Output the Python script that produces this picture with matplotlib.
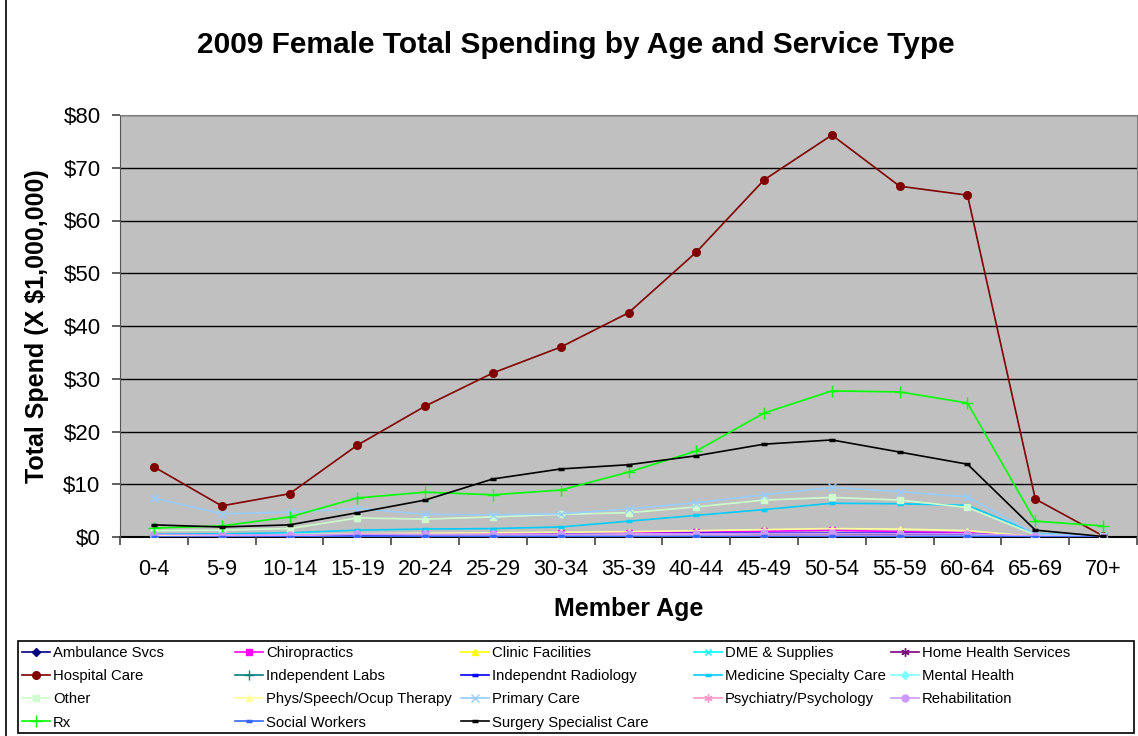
import matplotlib
matplotlib.use("Agg")
import matplotlib.pyplot as plt
from matplotlib.lines import Line2D
from matplotlib.patches import Rectangle
import numpy as np

plt.rcParams['font.family'] = ['Liberation Sans', 'DejaVu Sans']

ages = ["0-4", "5-9", "10-14", "15-19", "20-24", "25-29", "30-34", "35-39",
        "40-44", "45-49", "50-54", "55-59", "60-64", "65-69", "70+"]

ambulance = [0.2, 0.1, 0.1, 0.2, 0.2, 0.2, 0.2, 0.3, 0.3, 0.4, 0.4, 0.4, 0.4, 0.1, 0.0]
chiro = [0.0, 0.0, 0.1, 0.3, 0.5, 0.6, 0.7, 0.8, 0.9, 1.1, 1.3, 1.0, 0.8, 0.1, 0.0]
clinic = [0.2, 0.2, 0.3, 0.4, 0.4, 0.4, 0.4, 0.5, 0.5, 0.6, 0.6, 0.5, 0.4, 0.1, 0.0]
dme = [0.3, 0.2, 0.2, 0.3, 0.3, 0.3, 0.3, 0.4, 0.4, 0.5, 0.5, 0.5, 0.4, 0.1, 0.0]
home_health = [0.0, 0.0, 0.0, 0.1, 0.1, 0.1, 0.1, 0.2, 0.3, 0.4, 0.5, 0.5, 0.5, 0.1, 0.0]
hospital = [13.3, 5.9, 8.2, 17.4, 24.8, 31.1, 36.0, 42.5, 54.0, 67.7, 76.2, 66.5, 64.8, 7.2, 0.2]
ind_labs = [0.1, 0.1, 0.1, 0.2, 0.2, 0.2, 0.2, 0.3, 0.3, 0.3, 0.3, 0.3, 0.2, 0.0, 0.0]
ind_radiology = [0.1, 0.1, 0.1, 0.3, 0.3, 0.4, 0.5, 0.6, 0.7, 0.8, 0.8, 0.7, 0.6, 0.1, 0.0]
medicine = [0.6, 0.6, 0.8, 1.3, 1.5, 1.6, 1.9, 3.0, 4.1, 5.2, 6.4, 6.3, 6.0, 0.7, 0.0]
mental = [0.2, 0.3, 0.5, 0.6, 0.5, 0.4, 0.4, 0.4, 0.4, 0.3, 0.3, 0.2, 0.2, 0.0, 0.0]
other = [1.2, 1.3, 1.6, 3.6, 3.4, 3.8, 4.3, 4.6, 5.7, 7.0, 7.5, 7.0, 5.6, 0.4, 0.1]
phys = [0.3, 0.3, 0.4, 0.6, 0.7, 0.8, 0.9, 1.0, 1.2, 1.4, 1.6, 1.5, 1.2, 0.1, 0.0]
primary = [7.4, 4.4, 4.7, 5.4, 4.3, 4.2, 4.4, 5.3, 6.5, 8.0, 9.4, 8.6, 7.6, 0.6, 0.1]
psych = [0.0, 0.1, 0.3, 0.5, 0.4, 0.4, 0.4, 0.4, 0.4, 0.3, 0.3, 0.2, 0.1, 0.0, 0.0]
rehab = [0.5, 0.4, 0.4, 0.5, 0.5, 0.5, 0.5, 0.6, 0.6, 0.7, 0.7, 0.6, 0.6, 0.2, 0.0]
rx = [1.7, 2.1, 3.8, 7.4, 8.5, 8.0, 8.9, 12.3, 16.3, 23.5, 27.7, 27.5, 25.4, 3.0, 2.1]
social = [0.0, 0.0, 0.0, 0.1, 0.1, 0.1, 0.1, 0.1, 0.1, 0.1, 0.1, 0.1, 0.1, 0.0, 0.0]
surgery = [2.3, 1.9, 2.3, 4.6, 7.0, 11.0, 12.9, 13.7, 15.4, 17.6, 18.4, 16.1, 13.8, 1.3, 0.1]

asterisk = (6, 2, 0)
series = [
    ("Ambulance Svcs", ambulance, "#000080", "D", 4),
    ("Chiropractics", chiro, "#FF00FF", "s", 4.5),
    ("Clinic Facilities", clinic, "#FFFF00", "^", 5),
    ("DME & Supplies", dme, "#00FFFF", "x", 5),
    ("Home Health Services", home_health, "#800080", asterisk, 6),
    ("Hospital Care", hospital, "#800000", "o", 5.5),
    ("Independent Labs", ind_labs, "#008080", "+", 7),
    ("Independnt Radiology", ind_radiology, "#0000FF", "_", 5),
    ("Medicine Specialty Care", medicine, "#00CCFF", "_", 5),
    ("Mental Health", mental, "#80FFFF", "D", 4),
    ("Other", other, "#CCFFCC", "s", 5),
    ("Phys/Speech/Ocup Therapy", phys, "#FFFF99", "^", 5),
    ("Primary Care", primary, "#99CCFF", "x", 6),
    ("Psychiatry/Psychology", psych, "#FF99CC", asterisk, 6),
    ("Rehabilitation", rehab, "#CC99FF", "o", 5),
    ("Rx", rx, "#00FF00", "+", 8),
    ("Social Workers", social, "#3366FF", "_", 5),
    ("Surgery Specialist Care", surgery, "#000000", "_", 5),
]

W, H = 1138, 736
fig = plt.figure(figsize=(W / 100, H / 100), dpi=100)
ax = fig.add_axes([120 / W, 199 / H, 1017 / W, 422 / H])
ax.set_facecolor("#C0C0C0")

x = np.arange(len(ages))
handles = []
for name, vals, col, mk, ms in series:
    mew = 2.5 if mk == "_" else 1.0
    h, = ax.plot(x, vals, color=col, lw=1.2, marker=mk, ms=ms,
                 mfc=col, mec=col, mew=mew, label=name)
    handles.append(h)

ax.set_xlim(-0.5, len(ages) - 0.5)
ax.set_ylim(0, 80)
ax.set_yticks(range(0, 81, 10))
ax.set_yticklabels(["$%d" % v for v in range(0, 81, 10)], fontsize=16)
ax.set_xticks(x)
ax.set_xticklabels(ages, fontsize=15.5)
ax.set_xticks(np.arange(-0.5, len(ages), 1), minor=True)
ax.tick_params(axis="x", which="major", length=0, pad=16)
ax.tick_params(axis="x", which="minor", length=6, width=1.2, color="#444444")
ax.tick_params(axis="y", length=6, width=1.2, color="#444444", pad=8)
ax.grid(axis="y", color="black", lw=1)
ax.set_axisbelow(True)
for s in ["top", "right"]:
    ax.spines[s].set_color("#808080")
ax.spines["left"].set_color("#555555")
ax.spines["bottom"].set_color("black")
ax.spines["bottom"].set_linewidth(1.5)
ax.spines["bottom"].set_zorder(0.5)

fig.text(576 / W, 1 - 45 / H, "2009 Female Total Spending by Age and Service Type",
         ha="center", va="center", fontsize=21.5, fontweight="bold")
ax.set_xlabel("Member Age", fontsize=18, fontweight="bold", labelpad=12)
ax.set_ylabel("Total Spend (X $1,000,000)", fontsize=18, fontweight="bold", labelpad=10)

# legend box with five row-major columns
fig.add_artist(Rectangle((18 / W, 3 / H), 1116 / W, 92 / H, transform=fig.transFigure,
                         facecolor="white", edgecolor="black", lw=1.2))
text_left = [53, 266, 492, 725, 922]
for c, tx in enumerate(text_left):
    col_handles = handles[c::5]
    leg = fig.legend(col_handles, [h.get_label() for h in col_handles],
                     loc="upper left", bbox_to_anchor=((tx - 31) / W, 1 - 646 / H),
                     fontsize=10.7, frameon=False, handlelength=1.9, handletextpad=0.2,
                     labelspacing=0.62, borderpad=0, borderaxespad=0)
    leg.set_zorder(3)

fig.add_artist(Line2D([6 / W, 6 / W], [0, 1], color="black", lw=1.2,
                      transform=fig.transFigure))

fig.savefig("out.png", dpi=100, facecolor="white")
